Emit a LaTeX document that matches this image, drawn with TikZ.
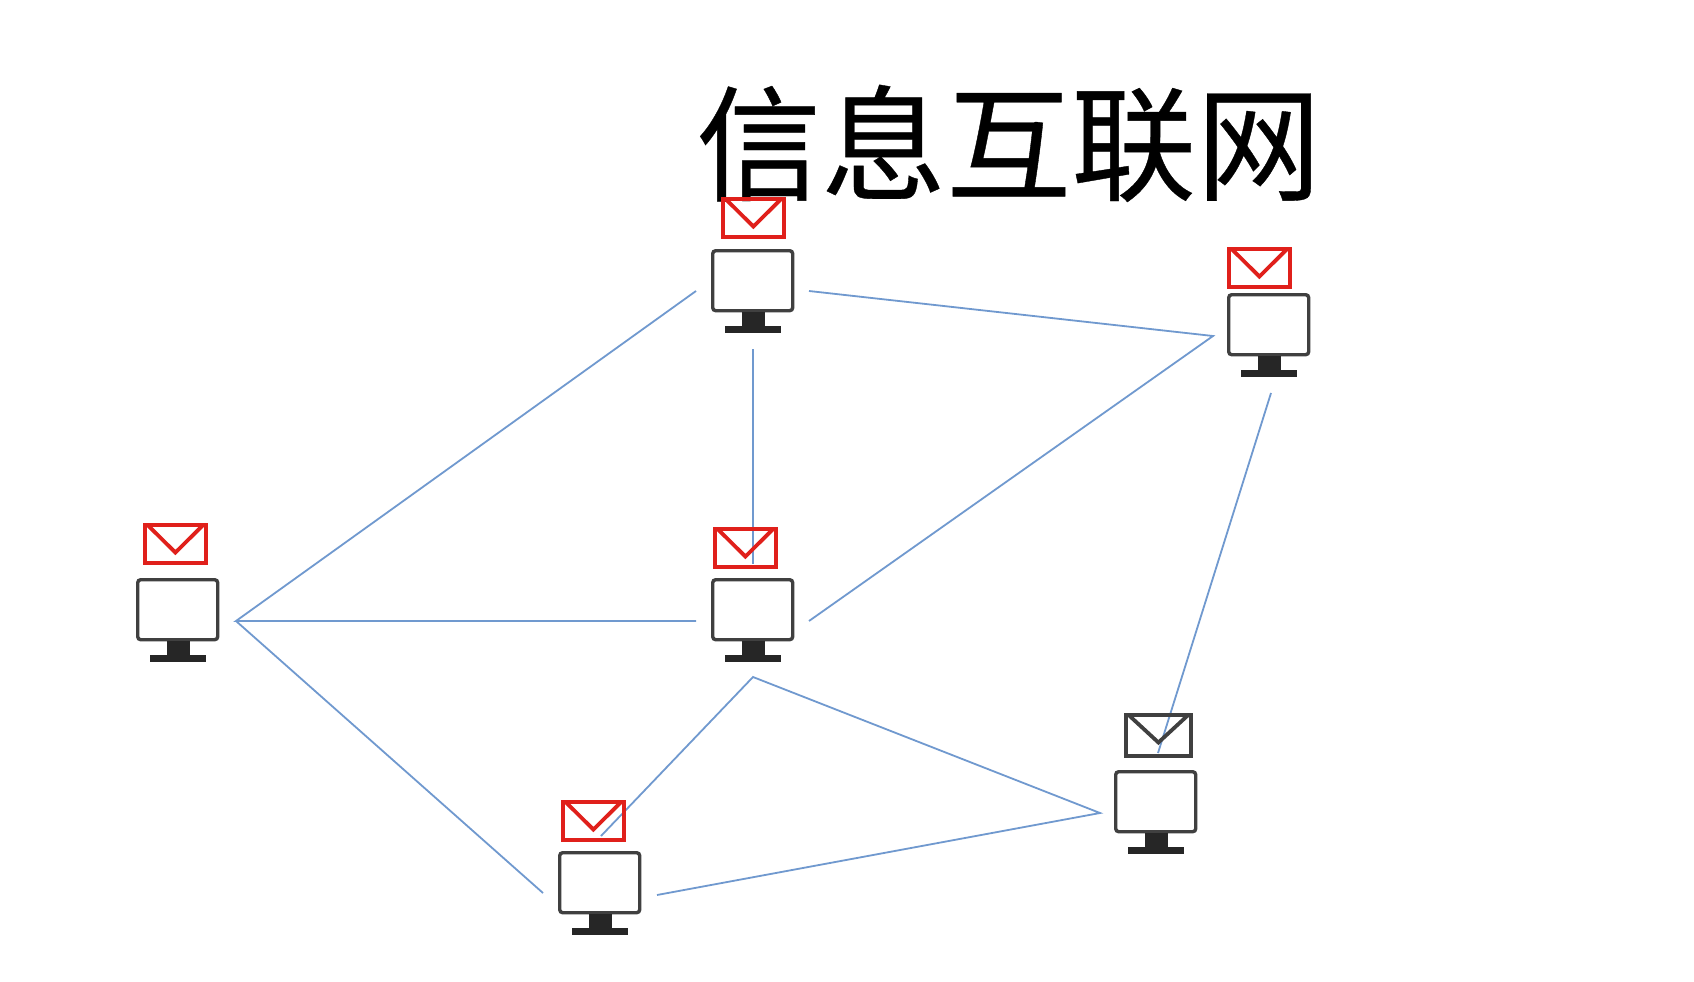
\documentclass[tikz,border=0pt]{standalone}
\usepackage{fontspec}
\newfontfamily\cjk[FakeBold=0.3]{Noto Sans CJK SC}
\usetikzlibrary{calc}
\definecolor{linkblue}{HTML}{7099CF}
\definecolor{mailred}{HTML}{E0201B}
\definecolor{screendark}{HTML}{404040}
\definecolor{standdark}{HTML}{262626}
\tikzset{
  screenbox/.style={draw=screendark,line width=3.4pt,rounded corners=3pt,fill=white,inner sep=0pt,minimum width=80pt,minimum height=60pt,anchor=north west},
  mailbox/.style={draw=#1,line width=3.8pt,inner sep=0pt,anchor=north west},
  link/.style={draw=linkblue,line width=1.8pt,line join=miter},
  stand/.style={fill=standdark,draw=none},
  titletext/.style={inner sep=0pt,anchor=base west,text=black}
}
% #1 name, #2 left, #3 top of the screen (outer edge)
\newcommand{\monitorat}[3]{%
  \node[screenbox] (#1) at (#2,#3) {};
  \fill[stand] (#2+30.5,#3+63) rectangle (#2+54,#3+78);
  \fill[stand] (#2+14,#3+77) rectangle (#2+70,#3+84);
}
% #1 name, #2 colour, #3 left, #4 top, #5 width, #6 height
\newcommand{\mailat}[6]{%
  \node[mailbox=#2,minimum width=#5pt,minimum height=#6pt] (#1) at (#3,#4) {};
  \draw[#2,line width=3.8pt,line join=miter] ($(#1.north west)+(4.5,1.9)$) -- ($(#1.north)+(0,29.5)$) -- ($(#1.north east)+(-4.5,1.9)$);
}
\begin{document}
\begin{tikzpicture}[x=1pt,y=-1pt]
\useasboundingbox (0,0) rectangle (1694,982);
\fill[white] (0,0) rectangle (1694,982);

% free connector ends
\coordinate (hubL) at (236,621);
\coordinate (ctrW) at (696,621);
\coordinate (ctrE) at (809,621);
\coordinate (topW) at (696,291);
\coordinate (topE) at (809,291);
\coordinate (topS) at (753,349);
\coordinate (ctrN) at (753,564);
\coordinate (ctrS) at (753,677);
\coordinate (rightW) at (1213,336);
\coordinate (rightS) at (1271,393);
\coordinate (lowE) at (1100,813);
\coordinate (lowN) at (1158,753);
\coordinate (botN) at (601,836);
\coordinate (botW) at (543,893);
\coordinate (botE) at (657,895);

\draw[link] (topW) -- (hubL) -- (ctrW);
\draw[link] (hubL) -- (botW);
\draw[link] (topE) -- (rightW) -- (ctrE);
\draw[link] (topS) -- (ctrN);
\draw[link] (rightS) -- (lowN);
\draw[link] (botN) -- (ctrS) -- (lowE) -- (botE);

\node[titletext] (title) at (696,191) {\fontsize{125}{125}\selectfont\cjk 信息互联网};

\monitorat{pcleft}{136}{578}
\monitorat{pctop}{711}{249}
\monitorat{pcright}{1227}{293}
\monitorat{pcctr}{711}{578}
\monitorat{pclow}{1114}{770}
\monitorat{pcbot}{558}{851}

\mailat{mailleft}{mailred}{143}{523}{61}{38}
\mailat{mailtop}{mailred}{721}{197}{61}{38}
\mailat{mailright}{mailred}{1227}{247}{61}{38}
\mailat{mailctr}{mailred}{713}{527}{61}{38}
\mailat{maillow}{screendark}{1124}{713}{65}{41}
\mailat{mailbot}{mailred}{561}{800}{61}{38}
\end{tikzpicture}
\end{document}
